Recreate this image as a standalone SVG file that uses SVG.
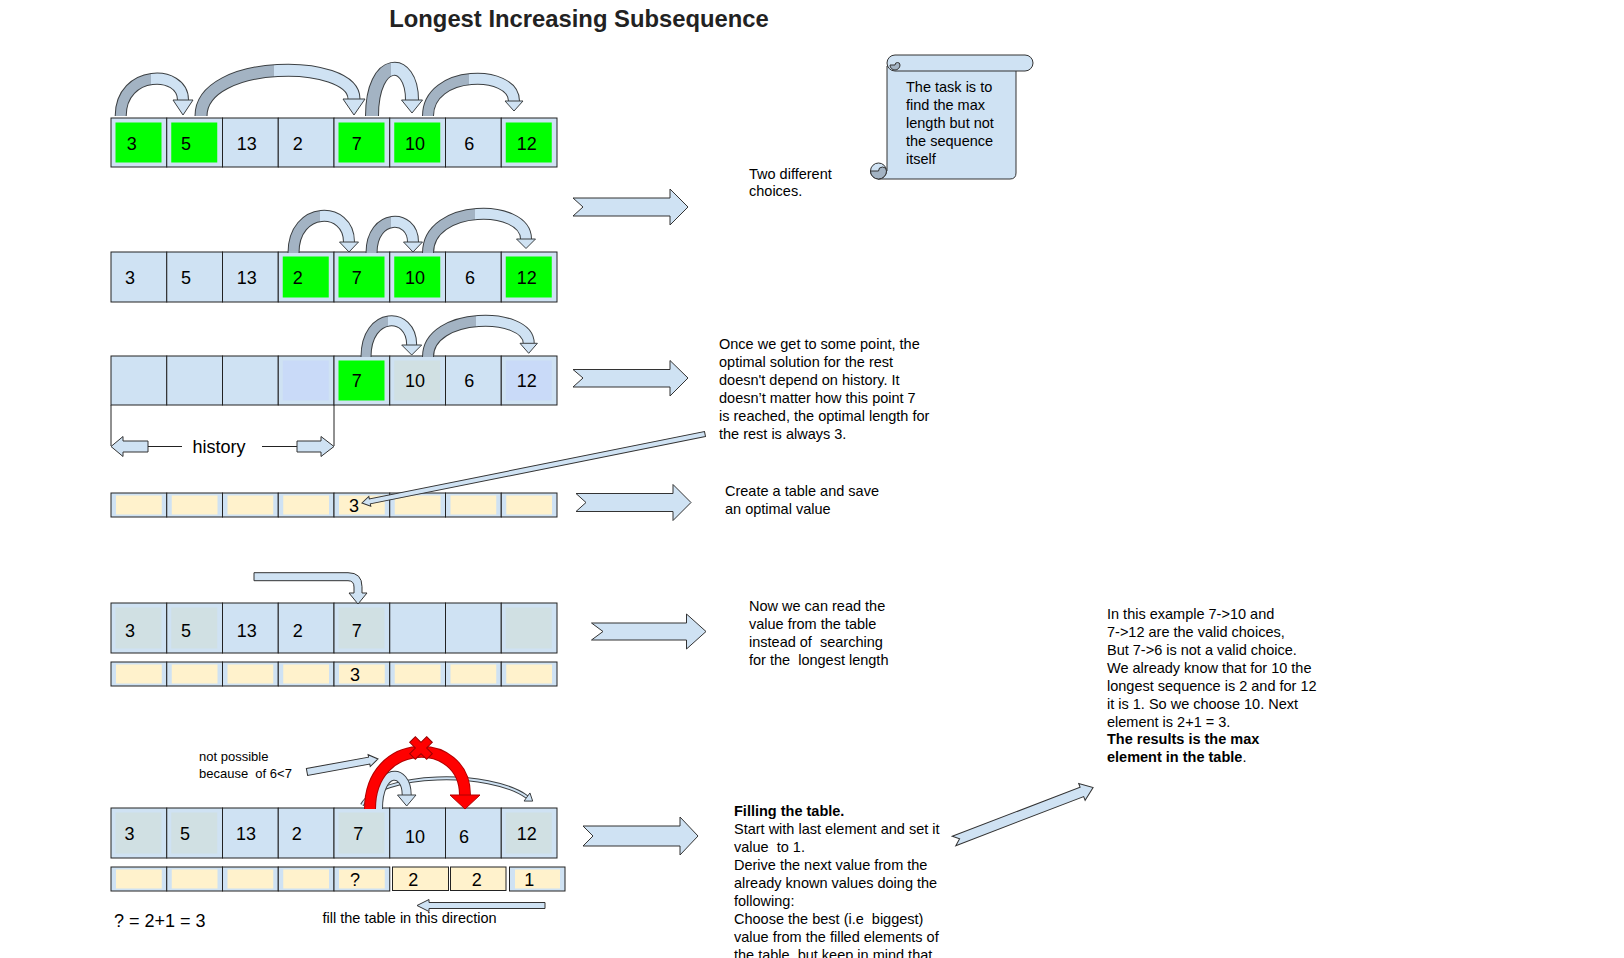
<svg xmlns="http://www.w3.org/2000/svg" width="1624" height="958" viewBox="0 0 1624 958">
<style>
text{font-family:"Liberation Sans",Arial,sans-serif;fill:#000;white-space:pre}
.title{font-size:23.8px;font-weight:bold;fill:#222}
.num{font-size:18px;text-anchor:middle}
.note{font-size:14.5px}
.small{font-size:13px}
.b{font-weight:bold}
.cell{fill:#cfe2f3;stroke:#222;stroke-width:1}
.g{fill:#00ff00}
.gy{fill:#d0e0e3}
.bl{fill:#c9daf8}
.y{fill:#fff2cc}
.box{fill:#fff2cc;stroke:#222;stroke-width:1}
.blk{fill:#cfe2f3;stroke:#333;stroke-width:1;stroke-linejoin:miter}
.ol{fill:none;stroke:#3c4043}
.band{fill:none;stroke:url(#tone)}
.head{fill:#cfe2f3;stroke:#3c4043;stroke-width:1;stroke-linejoin:miter}
.line{stroke:#222;stroke-width:1;fill:none}
</style>
<defs>
<linearGradient id="tone" x1="0" y1="0" x2="1" y2="0">
<stop offset="0" stop-color="#a3b3c3"/>
<stop offset="0.48" stop-color="#a3b3c3"/>
<stop offset="0.48" stop-color="#cfe2f3"/>
<stop offset="1" stop-color="#cfe2f3"/>
</linearGradient>
</defs>
<rect width="1624" height="958" fill="#fff"/>
<text id="title" class="title" x="579" y="26.5" text-anchor="middle">Longest Increasing Subsequence</text>

<!-- Row 1 -->
<g id="row1">
<rect class="cell" x="111" y="118" width="55.75" height="49"/>
<rect class="cell" x="166.75" y="118" width="55.75" height="49"/>
<rect class="cell" x="222.5" y="118" width="55.75" height="49"/>
<rect class="cell" x="278.25" y="118" width="55.75" height="49"/>
<rect class="cell" x="334" y="118" width="55.75" height="49"/>
<rect class="cell" x="389.75" y="118" width="55.75" height="49"/>
<rect class="cell" x="445.5" y="118" width="55.75" height="49"/>
<rect class="cell" x="501.25" y="118" width="55.75" height="49"/>
<rect class="g" x="115.5" y="122.5" width="46" height="40"/>
<rect class="g" x="171.25" y="122.5" width="46" height="40"/>
<rect class="g" x="338.5" y="122.5" width="46" height="40"/>
<rect class="g" x="394.25" y="122.5" width="46" height="40"/>
<rect class="g" x="505.75" y="122.5" width="46" height="40"/>
<text class="num" x="131.7" y="150">3</text><text class="num" x="186" y="150">5</text><text class="num" x="246.7" y="150">13</text><text class="num" x="297.7" y="150">2</text><text class="num" x="356.7" y="150">7</text><text class="num" x="415" y="150">10</text><text class="num" x="469.3" y="150">6</text><text class="num" x="526.7" y="150">12</text>
</g>

<!-- Row 2 -->
<g id="row2">
<rect class="cell" x="111" y="252" width="55.75" height="50"/>
<rect class="cell" x="166.75" y="252" width="55.75" height="50"/>
<rect class="cell" x="222.5" y="252" width="55.75" height="50"/>
<rect class="cell" x="278.25" y="252" width="55.75" height="50"/>
<rect class="cell" x="334" y="252" width="55.75" height="50"/>
<rect class="cell" x="389.75" y="252" width="55.75" height="50"/>
<rect class="cell" x="445.5" y="252" width="55.75" height="50"/>
<rect class="cell" x="501.25" y="252" width="55.75" height="50"/>
<rect class="g" x="282.75" y="256.5" width="46" height="41"/>
<rect class="g" x="338.5" y="256.5" width="46" height="41"/>
<rect class="g" x="394.25" y="256.5" width="46" height="41"/>
<rect class="g" x="505.75" y="256.5" width="46" height="41"/>
<text class="num" x="130" y="284">3</text><text class="num" x="186" y="284">5</text><text class="num" x="246.7" y="284">13</text><text class="num" x="297.7" y="284">2</text><text class="num" x="356.7" y="284">7</text><text class="num" x="415" y="284">10</text><text class="num" x="470" y="284">6</text><text class="num" x="526.7" y="284">12</text>
</g>

<!-- Row 3 -->
<g id="row3">
<rect class="cell" x="111" y="356" width="55.75" height="49"/>
<rect class="cell" x="166.75" y="356" width="55.75" height="49"/>
<rect class="cell" x="222.5" y="356" width="55.75" height="49"/>
<rect class="cell" x="278.25" y="356" width="55.75" height="49"/>
<rect class="cell" x="334" y="356" width="55.75" height="49"/>
<rect class="cell" x="389.75" y="356" width="55.75" height="49"/>
<rect class="cell" x="445.5" y="356" width="55.75" height="49"/>
<rect class="cell" x="501.25" y="356" width="55.75" height="49"/>
<rect class="bl" x="282.75" y="360.5" width="46" height="40"/>
<rect class="g" x="338.5" y="360.5" width="46" height="40"/>
<rect class="gy" x="394.25" y="360.5" width="46" height="40"/>
<rect class="bl" x="505.75" y="360.5" width="46" height="40"/>
<text class="num" x="356.7" y="387">7</text><text class="num" x="415" y="387">10</text><text class="num" x="469.3" y="387">6</text><text class="num" x="526.7" y="387">12</text>
</g>

<!-- history -->
<g id="history">
<line class="line" x1="111" y1="405" x2="111" y2="446"/>
<line class="line" x1="334" y1="405" x2="334" y2="446"/>
<polygon class="blk" points="111,446.5 123,436.5 123,441 148,441 148,452 123,452 123,456.5"/>
<line class="line" x1="148" y1="446.5" x2="182" y2="446.5"/>
<text x="192.5" y="452.5" style="font-size:18px">history</text>
<line class="line" x1="262" y1="446.5" x2="297" y2="446.5"/>
<polygon class="blk" points="297,441 321,441 321,436.5 334,446.5 321,456.5 321,452 297,452"/>
</g>

<!-- Table row 4 -->
<g id="table4">
<rect class="cell" x="111" y="493" width="55.75" height="24"/>
<rect class="cell" x="166.75" y="493" width="55.75" height="24"/>
<rect class="cell" x="222.5" y="493" width="55.75" height="24"/>
<rect class="cell" x="278.25" y="493" width="55.75" height="24"/>
<rect class="cell" x="334" y="493" width="55.75" height="24"/>
<rect class="cell" x="389.75" y="493" width="55.75" height="24"/>
<rect class="cell" x="445.5" y="493" width="55.75" height="24"/>
<rect class="cell" x="501.25" y="493" width="55.75" height="24"/>
<rect class="y" x="116" y="495.5" width="45.75" height="19"/>
<rect class="y" x="171.75" y="495.5" width="45.75" height="19"/>
<rect class="y" x="227.5" y="495.5" width="45.75" height="19"/>
<rect class="y" x="283.25" y="495.5" width="45.75" height="19"/>
<rect class="y" x="339" y="495.5" width="45.75" height="19"/>
<rect class="y" x="394.75" y="495.5" width="45.75" height="19"/>
<rect class="y" x="450.5" y="495.5" width="45.75" height="19"/>
<rect class="y" x="506.25" y="495.5" width="45.75" height="19"/>
<text class="num" x="354" y="512">3</text>
</g>

<!-- Row 5 -->
<g id="row5">
<rect class="cell" x="111" y="603" width="55.75" height="50"/>
<rect class="cell" x="166.75" y="603" width="55.75" height="50"/>
<rect class="cell" x="222.5" y="603" width="55.75" height="50"/>
<rect class="cell" x="278.25" y="603" width="55.75" height="50"/>
<rect class="cell" x="334" y="603" width="55.75" height="50"/>
<rect class="cell" x="389.75" y="603" width="55.75" height="50"/>
<rect class="cell" x="445.5" y="603" width="55.75" height="50"/>
<rect class="cell" x="501.25" y="603" width="55.75" height="50"/>
<rect class="gy" x="115.5" y="607.5" width="46" height="41"/>
<rect class="gy" x="171.25" y="607.5" width="46" height="41"/>
<rect class="gy" x="338.5" y="607.5" width="46" height="41"/>
<rect class="gy" x="505.75" y="607.5" width="46" height="41"/>
<text class="num" x="130" y="637">3</text><text class="num" x="186" y="637">5</text><text class="num" x="246.7" y="637">13</text><text class="num" x="297.7" y="637">2</text><text class="num" x="356.7" y="637">7</text>
</g>

<!-- Table row 5 -->
<g id="table5">
<rect class="cell" x="111" y="662" width="55.75" height="24"/>
<rect class="cell" x="166.75" y="662" width="55.75" height="24"/>
<rect class="cell" x="222.5" y="662" width="55.75" height="24"/>
<rect class="cell" x="278.25" y="662" width="55.75" height="24"/>
<rect class="cell" x="334" y="662" width="55.75" height="24"/>
<rect class="cell" x="389.75" y="662" width="55.75" height="24"/>
<rect class="cell" x="445.5" y="662" width="55.75" height="24"/>
<rect class="cell" x="501.25" y="662" width="55.75" height="24"/>
<rect class="y" x="116" y="664.5" width="45.75" height="19"/>
<rect class="y" x="171.75" y="664.5" width="45.75" height="19"/>
<rect class="y" x="227.5" y="664.5" width="45.75" height="19"/>
<rect class="y" x="283.25" y="664.5" width="45.75" height="19"/>
<rect class="y" x="339" y="664.5" width="45.75" height="19"/>
<rect class="y" x="394.75" y="664.5" width="45.75" height="19"/>
<rect class="y" x="450.5" y="664.5" width="45.75" height="19"/>
<rect class="y" x="506.25" y="664.5" width="45.75" height="19"/>
<text class="num" x="355" y="681">3</text>
</g>

<!-- Row 6 -->
<g id="row6">
<rect class="cell" x="111" y="808" width="55.75" height="50"/>
<rect class="cell" x="166.75" y="808" width="55.75" height="50"/>
<rect class="cell" x="222.5" y="808" width="55.75" height="50"/>
<rect class="cell" x="278.25" y="808" width="55.75" height="50"/>
<rect class="cell" x="334" y="808" width="55.75" height="50"/>
<rect class="cell" x="389.75" y="808" width="55.75" height="50"/>
<rect class="cell" x="445.5" y="808" width="55.75" height="50"/>
<rect class="cell" x="501.25" y="808" width="55.75" height="50"/>
<rect class="gy" x="115.5" y="812.5" width="46" height="41"/>
<rect class="gy" x="171.25" y="812.5" width="46" height="41"/>
<rect class="gy" x="338.5" y="812.5" width="46" height="41"/>
<rect class="gy" x="505.75" y="812.5" width="46" height="41"/>
<text class="num" x="129.5" y="840">3</text><text class="num" x="185" y="840">5</text><text class="num" x="246" y="840">13</text><text class="num" x="296.7" y="840">2</text><text class="num" x="358.3" y="840">7</text><text class="num" x="415" y="842.5">10</text><text class="num" x="464" y="842.5">6</text><text class="num" x="526.7" y="840">12</text>
</g>

<!-- Table row 6 -->
<g id="table6">
<rect class="cell" x="111" y="867" width="55.75" height="24"/>
<rect class="cell" x="166.75" y="867" width="55.75" height="24"/>
<rect class="cell" x="222.5" y="867" width="55.75" height="24"/>
<rect class="cell" x="278.25" y="867" width="55.75" height="24"/>
<rect class="cell" x="334" y="867" width="55.75" height="24"/>
<rect class="y" x="116" y="869.5" width="45.75" height="19"/>
<rect class="y" x="171.75" y="869.5" width="45.75" height="19"/>
<rect class="y" x="227.5" y="869.5" width="45.75" height="19"/>
<rect class="y" x="283.25" y="869.5" width="45.75" height="19"/>
<rect class="y" x="339" y="869.5" width="45.75" height="19"/>
<rect class="box" x="392.5" y="867" width="56" height="23.5"/>
<rect class="box" x="450.5" y="867" width="55.5" height="23.5"/>
<rect class="cell" x="509.5" y="867" width="55.5" height="24"/>
<rect class="y" x="515" y="869.5" width="45" height="19"/>
<text class="num" x="355" y="885.5">?</text>
<text class="num" x="413.3" y="885.5">2</text>
<text class="num" x="476.7" y="885.5">2</text>
<text class="num" x="529.3" y="885.5">1</text>
</g>

<text id="formula" x="114" y="926.5" style="font-size:18px">? = 2+1 = 3</text>
<text id="fillDir" class="note" x="322.5" y="923">fill the table in this direction</text>
<text id="notPossible" class="small"><tspan x="199" y="760.5">not possible</tspan><tspan x="199" y="777.5">because  of 6&lt;7</tspan></text>

<!-- Connectors -->
<g id="connectors">
<path class="ol" stroke-width="12" d="M120.7 116 C120.7 69.3 183 69.3 183 100"/>
<path class="band" stroke-width="10" d="M120.7 116 C120.7 69.3 183 69.3 183 100"/>
<polygon class="head" points="173,100 193,100 183,115"/>
<path class="ol" stroke-width="13" d="M201 116 C201 58.1 354 58.1 354 99"/>
<path class="band" stroke-width="11" d="M201 116 C201 58.1 354 58.1 354 99"/>
<polygon class="head" points="343,99 365,99 354,115"/>
<path class="ol" stroke-width="14" d="M372 116 C372 56 412 56 412 100"/>
<path class="band" stroke-width="12" d="M372 116 C372 56 412 56 412 100"/>
<polygon class="head" points="401.5,100 422.5,100 412,113"/>
<path class="ol" stroke-width="12" d="M428 116 C428 69.2 514 69.2 514 101"/>
<path class="band" stroke-width="10" d="M428 116 C428 69.2 514 69.2 514 101"/>
<polygon class="head" points="505,101 523,101 514,111"/>
<path class="ol" stroke-width="12" d="M293.5 253 C293.5 205.5 349 205.5 349 242"/>
<path class="band" stroke-width="10" d="M293.5 253 C293.5 205.5 349 205.5 349 242"/>
<polygon class="head" points="339.5,242 358.5,242 349,252"/>
<path class="ol" stroke-width="12" d="M371.5 253 C371.5 213.5 413 213.5 413 242"/>
<path class="band" stroke-width="10" d="M371.5 253 C371.5 213.5 413 213.5 413 242"/>
<polygon class="head" points="403.5,242 422.5,242 413,252"/>
<path class="ol" stroke-width="12" d="M428 253 C428 203.3 526 203.3 526 239"/>
<path class="band" stroke-width="10" d="M428 253 C428 203.3 526 203.3 526 239"/>
<polygon class="head" points="516.5,239 535.5,239 526,248.5"/>
<path class="ol" stroke-width="11" d="M366 357 C366 311 411.7 311 411.7 345"/>
<path class="band" stroke-width="9" d="M366 357 C366 311 411.7 311 411.7 345"/>
<polygon class="head" points="401.7,345 421.7,345 411.7,355"/>
<path class="ol" stroke-width="12" d="M428 357 C428 311.3 528.7 311.3 528.7 343.3"/>
<path class="band" stroke-width="10" d="M428 357 C428 311.3 528.7 311.3 528.7 343.3"/>
<polygon class="head" points="520,343.3 537.4,343.3 528.7,353.3"/>
<polygon class="blk" transform="translate(705,434) rotate(168.63)" points="0,-2.5 341.9,-2.5 341.9,-5 349.9,0 341.9,5 341.9,2.5 0,2.5"/>
<path class="blk" d="M254 572.7 H348 Q362 572.7 362 586.7 V593 H367 L358 604 L349 593 H354 V587 Q354 580.7 348 580.7 H254 Z"/>
<path class="ol" stroke-width="4" d="M362 805 C380 772 490 770 527 797"/>
<path fill="none" stroke="#cfe2f3" stroke-width="2" d="M362 805 C380 772 490 770 527 797"/>
<polygon class="head" points="529.95,792.96 524.05,801.04 532.7,801.1"/>
<path class="ol" stroke-width="10" d="M378 809 C378 767.3 406.7 767.3 406.7 795"/>
<path fill="none" stroke="#cfe2f3" stroke-width="8" d="M378 809 C378 767.3 406.7 767.3 406.7 795"/>
<polygon class="head" points="397.5,795 416,795 406.7,806"/>
<path fill="none" stroke="#b00000" stroke-width="12" d="M370 809 C370 735.3 465 735.3 465 795"/>
<path fill="none" stroke="#ff0000" stroke-width="10" d="M370 809 C370 735.3 465 735.3 465 795"/>
<polygon fill="#ff0000" stroke="#b00000" stroke-width="1" points="450,795 480,795 465,809"/>
<polygon fill="#ff0000" stroke="#990000" stroke-width="1" transform="translate(421,748) rotate(45)" points="-4,-12 4,-12 4,-4 12,-4 12,4 4,4 4,12 -4,12 -4,4 -12,4 -12,-4 -4,-4"/>
<polygon class="blk" transform="translate(307,772) rotate(-10.4)" points="0,-3.5 63.2,-3.5 63.2,-6 72.2,0 63.2,6 63.2,3.5 0,3.5"/>
<polygon class="blk" points="545,902.5 429,902.5 429,899.5 417,905.5 429,911.5 429,908.5 545,908.5"/>
<polygon class="blk" points="573,198 670,198 670,189 688,207 670,225 670,216 573,216 583,207"/>
<polygon class="blk" points="573,369.5 670,369.5 670,360.5 688,378 670,396 670,387 573,387 583,378"/>
<polygon class="blk" points="576,493.5 673,493.5 673,484.5 691,502.5 673,520.5 673,511.5 576,511.5 586,502.5"/>
<polygon class="blk" points="591.5,623 686.5,623 686.5,614 706,631.5 686.5,649 686.5,640 591.5,640 603,631.5"/>
<polygon class="blk" points="583,826 680,826 680,817 698,836 680,855 680,846 583,846 593,836"/>
<polygon class="blk" transform="translate(954,841) rotate(-21)" points="0,-5 137,-5 137,-9 149,0 137,9 137,5 0,5 6,0"/>
</g>

<!-- Scroll note -->
<g id="scroll">
<path class="blk" d="M887 66 H1016 V173 Q1016 179 1010 179 H878 V171 H887 Z"/>
<circle cx="878.5" cy="171" r="8" fill="#cfe2f3" stroke="#333" stroke-width="1"/>
<path d="M870.5 171 A8 8 0 0 0 886.5 171 A4 4 0 0 0 878.5 171 Z" fill="#a3b3c3" stroke="#333" stroke-width="1"/>
<rect class="blk" x="887" y="55" width="146" height="16" rx="8"/>
<path d="M890 65 A5 5 0 0 0 900 65 A2.5 2.5 0 0 0 895 65 Z" fill="#a3b3c3" stroke="#333" stroke-width="1"/>
<text class="note"><tspan x="906" y="91.5">The task is to</tspan><tspan x="906" y="109.5">find the max</tspan><tspan x="906" y="127.5">length but not</tspan><tspan x="906" y="145.5">the sequence</tspan><tspan x="906" y="163.5">itself</tspan></text>
</g>

<g id="notes">
<text class="note"><tspan x="749" y="178.5">Two different</tspan><tspan x="749" y="196">choices.</tspan></text>
<text class="note"><tspan x="719" y="349">Once we get to some point, the</tspan><tspan x="719" y="367">optimal solution for the rest</tspan><tspan x="719" y="385">doesn't depend on history. It</tspan><tspan x="719" y="403">doesn’t matter how this point 7</tspan><tspan x="719" y="421">is reached, the optimal length for</tspan><tspan x="719" y="439">the rest is always 3.</tspan></text>
<text class="note"><tspan x="725" y="495.5">Create a table and save</tspan><tspan x="725" y="513.5">an optimal value</tspan></text>
<text class="note"><tspan x="749" y="611">Now we can read the</tspan><tspan x="749" y="629">value from the table</tspan><tspan x="749" y="647">instead of  searching</tspan><tspan x="749" y="665">for the  longest length</tspan></text>
<text class="note"><tspan x="734" y="816" class="b">Filling the table.</tspan><tspan x="734" y="834">Start with last element and set it</tspan><tspan x="734" y="852">value  to 1.</tspan><tspan x="734" y="870">Derive the next value from the</tspan><tspan x="734" y="888">already known values doing the</tspan><tspan x="734" y="906">following:</tspan><tspan x="734" y="924">Choose the best (i.e  biggest)</tspan><tspan x="734" y="942">value from the filled elements of</tspan><tspan x="734" y="960">the table, but keep in mind that</tspan></text>
<text class="note"><tspan x="1107" y="618.5">In this example 7-&gt;10 and</tspan><tspan x="1107" y="636.5">7-&gt;12 are the valid choices,</tspan><tspan x="1107" y="654.5">But 7-&gt;6 is not a valid choice.</tspan><tspan x="1107" y="672.5">We already know that for 10 the</tspan><tspan x="1107" y="690.5">longest sequence is 2 and for 12</tspan><tspan x="1107" y="708.5">it is 1. So we choose 10. Next</tspan><tspan x="1107" y="726.5">element is 2+1 = 3.</tspan><tspan x="1107" y="744" class="b">The results is the max</tspan><tspan x="1107" y="762"><tspan class="b">element in the table</tspan>.</tspan></text>
</g>
</svg>
